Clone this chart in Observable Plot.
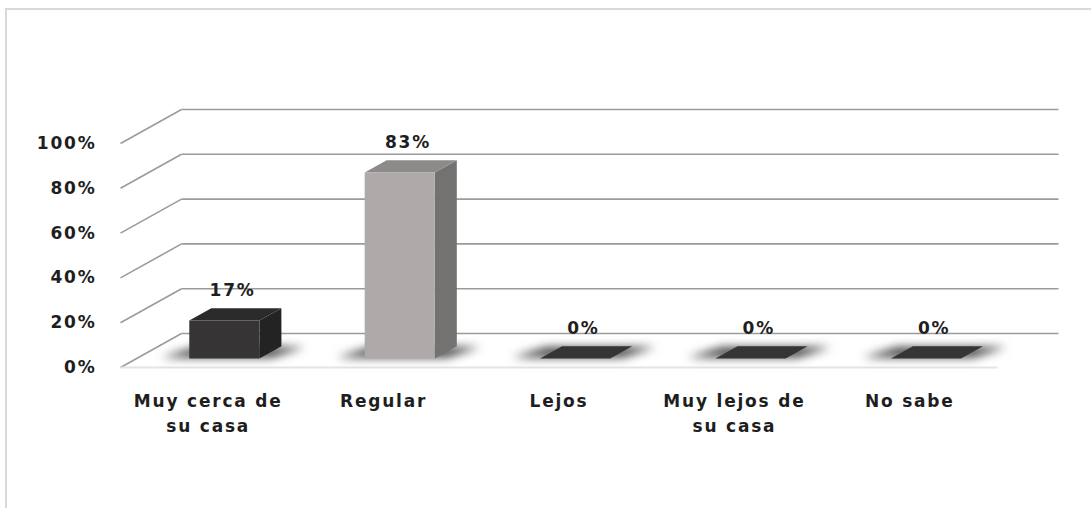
<!DOCTYPE html>
<html>
<head>
<meta charset="utf-8">
<script src="https://cdn.jsdelivr.net/npm/d3@7"></script>
<script src="https://cdn.jsdelivr.net/npm/@observablehq/plot@0.6"></script>
<style>
  html, body { margin: 0; padding: 0; background: #fff; overflow: hidden; }
  #wrap { position: relative; width: 1091px; height: 508px; }
  #frame { position: absolute; left: 5px; top: 8px; width: 1200px; height: 700px;
           border-left: 2px solid #d9d9d9; border-top: 2px solid #d9d9d9; }
  #chart { position: absolute; left: 0; top: 0; }
  svg [fill="#303031"] { filter: blur(5px); }
  svg text { letter-spacing: 1.8px; }
</style>
</head>
<body>
<div id="wrap"><div id="frame"></div><div id="chart"></div></div>
<script>
// ---- data ----
const categories = ["Muy cerca de\nsu casa", "Regular", "Lejos", "Muy lejos de\nsu casa", "No sabe"];
const values = [17, 83, 0, 0, 0];
const valueLabels = ["17%", "83%", "0%", "0%", "0%"];
const yTicks = [0, 20, 40, 60, 80, 100];
const yTickLabels = ["0%", "20%", "40%", "60%", "80%", "100%"];
const frontColors = ["#363435", "#aeaaaa", "#353535", "#353535", "#353535"];
const topColors   = ["#2c2b2b", "#8d8a8a", "#353535", "#353535", "#353535"];
const sideColors  = ["#242323", "#747171", "#2a2a2a", "#2a2a2a", "#2a2a2a"];
const shadowColor = "#303031";

// ---- layout / oblique projection ----
const W = 1091, H = 508, mL = 120, mR = 94, mT = 143, mB = 141;
const pxPerX = (W - mL - mR) / categories.length;
const pxPerY = (H - mT - mB) / 100;
const depthPx = {x: 61, y: 34};              // full floor depth, pixels
const DXu = depthPx.x / pxPerX, DYu = depthPx.y / pxPerY;
const P = (x, v, d) => ({x: x + d * DXu, y: v + d * DYu});
const half = 0.2, d0 = 0.265, d1 = 0.625;   // bar half-width and depth span
const n = categories.length;

const poly = (pts) => pts.map(([x, v, d]) => P(x, v, d));

const marks = [];
// back wall gridlines
marks.push(Plot.link(yTicks, {
  x1: () => P(0, 0, 1).x, x2: () => P(n, 0, 1).x,
  y1: t => P(0, t, 1).y, y2: t => P(0, t, 1).y,
  stroke: "#9b9b9b", strokeWidth: 1.6
}));
// side wall diagonals
marks.push(Plot.link(yTicks, {
  x1: 0, y1: t => t, x2: () => P(0, 0, 1).x, y2: t => P(0, t, 1).y,
  stroke: "#9b9b9b", strokeWidth: 1.6
}));
// floor front edge
marks.push(Plot.link([0], {x1: 0, x2: n, y1: 0, y2: 0, stroke: "#e4e4e4", strokeWidth: 2}));

// shadows (blurred footprints)
values.forEach((v, i) => {
  const c = i + 0.5;
  marks.push(Plot.line(poly([[c - half - 0.17, 0, d0 + 0.03], [c + half + 0.06, 0, d0 + 0.03], [c + half + 0.14, 0, d1 - 0.02], [c - half - 0.08, 0, d1 - 0.02]]),
    {x: "x", y: "y", fill: shadowColor, fillOpacity: 0.9, stroke: "none"}));
});

// bars
values.forEach((v, i) => {
  const c = i + 0.5, x1 = c - half, x2 = c + half;
  if (v > 0) {
    marks.push(Plot.line(poly([[x2, 0, d0], [x2, v, d0], [x2, v, d1], [x2, 0, d1]]),
      {x: "x", y: "y", fill: sideColors[i], stroke: "none"}));
  }
  marks.push(Plot.line(poly([[x1, v, d0], [x2, v, d0], [x2, v, d1], [x1, v, d1]]),
    {x: "x", y: "y", fill: topColors[i], stroke: "none"}));
  if (v > 0) {
    marks.push(Plot.line(poly([[x1, 0, d0], [x2, 0, d0], [x2, v, d0], [x1, v, d0]]),
      {x: "x", y: "y", fill: frontColors[i], stroke: "none"}));
  }
});

// y tick labels
marks.push(Plot.text(yTicks, {
  x: 0, y: t => t, text: (t, i) => yTickLabels[i], textAnchor: "end", dx: -24,
  fontWeight: "bold", fill: "#1e1e1e"
}));
// category labels
marks.push(Plot.text(categories, {
  x: (d, i) => i + 0.5, y: 0, text: d => d, lineAnchor: "top", dy: 22, lineHeight: 1.47,
  fontWeight: "bold", fill: "#1e1e1e"
}));
// value labels
marks.push(Plot.text(values, {
  x: (v, i) => P(i + 0.5, v, 0.4).x, y: (v, i) => P(i + 0.5, v, 0.4).y,
  text: (v, i) => valueLabels[i], dy: -25, fontWeight: "bold", fill: "#1e1e1e"
}));

const chart = Plot.plot({
  width: W, height: H,
  marginLeft: mL, marginRight: mR, marginTop: mT, marginBottom: mB,
  x: {type: "linear", domain: [0, n], axis: null},
  y: {type: "linear", domain: [0, 100], axis: null},
  style: {fontFamily: "'DejaVu Sans', sans-serif", fontSize: "17px", background: "transparent", overflow: "visible"},
  marks
});
document.getElementById("chart").appendChild(chart);
</script>
</body>
</html>
